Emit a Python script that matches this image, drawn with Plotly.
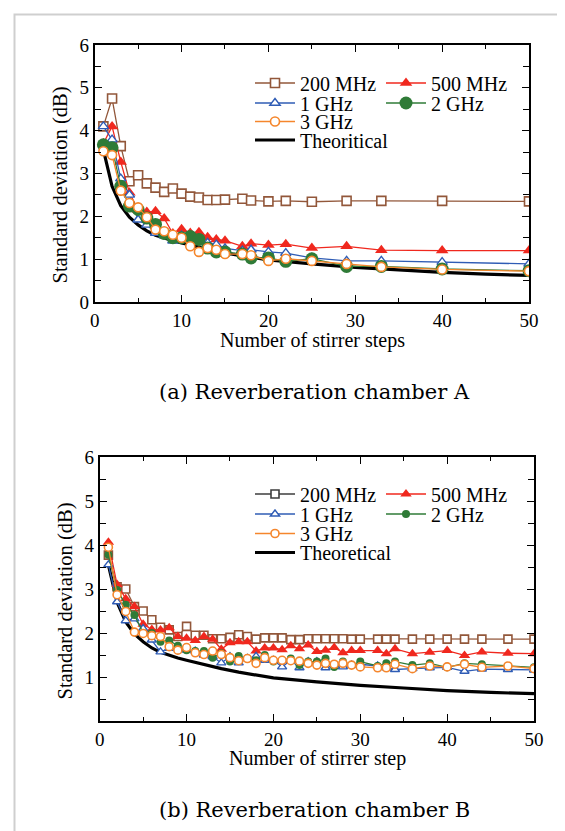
import plotly.graph_objects as go

FONT = "Liberation Serif"
CAP_FONT = "DejaVu Serif"
W, H = 565, 831

# ---------------- Data: reverberation chamber A ----------------
steps_a = [1, 2, 3, 4, 5, 6, 7, 8, 9, 10, 11, 12, 13, 14, 15, 17, 18, 20, 22, 25, 29, 33, 40, 50]
a_200mhz = [4.10, 4.75, 3.64, 2.82, 2.96, 2.77, 2.67, 2.57, 2.65, 2.53, 2.46, 2.44, 2.38, 2.38, 2.39,
            2.41, 2.37, 2.35, 2.36, 2.34, 2.36, 2.36, 2.36, 2.35]
a_500mhz = [3.70, 4.10, 3.27, 2.55, 2.15, 2.10, 2.12, 1.95, 1.60, 1.70, 1.61, 1.63, 1.51, 1.46, 1.43,
            1.30, 1.36, 1.33, 1.35, 1.26, 1.30, 1.21, 1.20, 1.20]
a_1ghz = [4.10, 3.79, 2.88, 2.50, 1.92, 1.80, 1.61, 1.55, 1.43, 1.55, 1.45, 1.42, 1.38, 1.34, 1.25,
          1.20, 1.22, 1.17, 1.14, 1.03, 0.96, 0.96, 0.93, 0.89]
a_2ghz = [3.67, 3.60, 2.70, 2.24, 2.16, 1.96, 1.81, 1.60, 1.50, 1.50, 1.53, 1.46, 1.26, 1.17, 1.17,
          1.12, 1.03, 1.03, 0.95, 1.01, 0.83, 0.83, 0.77, 0.73]
a_3ghz = [3.52, 3.43, 2.60, 2.31, 2.21, 1.98, 1.69, 1.65, 1.57, 1.50, 1.30, 1.17, 1.26, 1.22, 1.12,
          1.12, 1.09, 0.96, 1.01, 0.96, 0.89, 0.82, 0.76, 0.72]

# ---------------- Data: reverberation chamber B ----------------
steps_b = list(range(1, 31)) + [32, 33, 34, 36, 38, 40, 42, 44, 47, 50]
b_200mhz = [3.77, 3.05, 3.00, 2.60, 2.50, 2.30, 2.13, 2.07, 1.92, 2.15,
            1.95, 1.95, 1.87, 1.87, 1.90, 1.96, 1.92, 1.86, 1.89, 1.89,
            1.89, 1.85, 1.85, 1.87, 1.87, 1.87, 1.87, 1.87, 1.86, 1.86,
            1.86, 1.86, 1.86, 1.86, 1.86, 1.86, 1.86, 1.86, 1.86, 1.86]
b_500mhz = [4.06, 3.10, 2.78, 2.60, 2.20, 2.08, 2.07, 2.12, 1.92, 1.88,
            1.83, 1.92, 1.86, 1.63, 1.78, 1.80, 1.80, 1.59, 1.66, 1.66,
            1.62, 1.71, 1.64, 1.73, 1.58, 1.61, 1.67, 1.55, 1.60, 1.60,
            1.60, 1.53, 1.64, 1.53, 1.56, 1.60, 1.49, 1.57, 1.54, 1.53]
b_1ghz = [3.55, 2.71, 2.28, 2.32, 2.10, 1.84, 1.57, 1.65, 1.65, 1.61,
          1.59, 1.50, 1.46, 1.32, 1.46, 1.32, 1.42, 1.47, 1.38, 1.38,
          1.23, 1.38, 1.21, 1.35, 1.35, 1.21, 1.27, 1.23, 1.27, 1.29,
          1.25, 1.21, 1.17, 1.19, 1.21, 1.22, 1.13, 1.18, 1.17, 1.16]
b_2ghz = [3.78, 2.98, 2.64, 2.41, 2.00, 2.00, 1.80, 1.83, 1.71, 1.61,
          1.59, 1.59, 1.44, 1.54, 1.35, 1.48, 1.42, 1.38, 1.50, 1.35,
          1.38, 1.42, 1.27, 1.35, 1.35, 1.42, 1.23, 1.35, 1.27, 1.35,
          1.25, 1.31, 1.35, 1.27, 1.31, 1.22, 1.31, 1.29, 1.25, 1.22]
b_3ghz = [3.95, 2.87, 2.49, 2.02, 1.99, 1.94, 1.92, 1.69, 1.61, 1.67,
          1.55, 1.51, 1.59, 1.51, 1.44, 1.37, 1.42, 1.31, 1.44, 1.38,
          1.38, 1.37, 1.36, 1.31, 1.27, 1.31, 1.29, 1.31, 1.27, 1.23,
          1.21, 1.21, 1.29, 1.19, 1.25, 1.23, 1.29, 1.22, 1.25, 1.19]

# Theoretical curve (same for both chambers)
theo_steps = [1, 2, 3, 4, 5, 6, 7, 8, 9, 10, 12, 14, 16, 18, 20, 25, 30, 35, 40, 45, 50]
theo_std = [3.55, 2.70, 2.25, 1.98, 1.80, 1.66, 1.56, 1.49, 1.43, 1.38, 1.28, 1.19, 1.11, 1.04,
            0.98, 0.89, 0.81, 0.75, 0.69, 0.65, 0.62]

x_ticks = [0, 10, 20, 30, 40, 50]
x_minor = [5, 15, 25, 35, 45]
y_ticks_a = [0, 1, 2, 3, 4, 5, 6]
y_ticks_b = [1, 2, 3, 4, 5, 6]
y_minor = [0.5, 1.5, 2.5, 3.5, 4.5, 5.5]

BROWN = "#92573a"
DARK = "#3c3c3c"
RED = "#f0281e"
BLUE = "#2f5cb5"
GREEN = "#2f7b37"
ORANGE = "#f5862c"

fig = go.Figure()


def add_panel(xa, ya, steps, s200, s500, s1g, s2g, s3g, theo_name, legs, small):
    msz = 8 if small else 9
    gsz = 8 if small else 13
    common = dict(xaxis=xa, yaxis=ya, mode="lines+markers")
    fig.add_trace(go.Scatter(x=theo_steps, y=theo_std, name=theo_name, mode="lines",
                             line=dict(color="black", width=3.2), xaxis=xa, yaxis=ya,
                             legend=legs[3]))
    fig.add_trace(go.Scatter(x=steps, y=s200, name="200 MHz", legend=legs[0],
                             showlegend=not small,
                             line=dict(color=BROWN, width=1.3),
                             marker=dict(symbol="square", size=msz, color="white",
                                         line=dict(color=BROWN, width=1.6)), **common))
    if small:
        # legend entry of chamber B drawn in dark grey, as in the original
        fig.add_trace(go.Scatter(x=[None], y=[None], name="200 MHz", legend=legs[0],
                                 line=dict(color=DARK, width=1.3),
                                 marker=dict(symbol="square", size=msz, color="white",
                                             line=dict(color=DARK, width=1.6)), **common))
    fig.add_trace(go.Scatter(x=steps, y=s500, name="500 MHz", legend=legs[0],
                             line=dict(color=RED, width=1.3),
                             marker=dict(symbol="triangle-up", size=msz + 2, color=RED,
                                         line=dict(width=0)), **common))
    fig.add_trace(go.Scatter(x=steps, y=s1g, name="1 GHz", legend=legs[1],
                             line=dict(color=BLUE, width=1.3),
                             marker=dict(symbol="triangle-up", size=msz, color="white",
                                         line=dict(color=BLUE, width=1.4)), **common))
    fig.add_trace(go.Scatter(x=steps, y=s2g, name="2 GHz", legend=legs[1],
                             line=dict(color=GREEN, width=1.3),
                             marker=dict(symbol="circle", size=gsz, color=GREEN,
                                         line=dict(width=0)), **common))
    fig.add_trace(go.Scatter(x=steps, y=s3g, name="3 GHz", legend=legs[2],
                             line=dict(color=ORANGE, width=1.3),
                             marker=dict(symbol="circle", size=msz, color="white",
                                         line=dict(color=ORANGE, width=1.6)), **common))


add_panel("x", "y", steps_a, a_200mhz, a_500mhz, a_1ghz, a_2ghz, a_3ghz, "Theoritical",
          ["legend", "legend2", "legend3", "legend4"], False)
add_panel("x2", "y2", steps_b, b_200mhz, b_500mhz, b_1ghz, b_2ghz, b_3ghz, "Theoretical",
          ["legend5", "legend6", "legend7", "legend8"], True)

tickfont = dict(family=FONT, size=19, color="black")


def xaxis(domain, anchor):
    return dict(domain=domain, anchor=anchor, range=[0, 50], tickmode="array", tickvals=x_ticks,
                ticks="inside", ticklen=7, tickwidth=1.3, tickcolor="black",
                minor=dict(tickmode="array", tickvals=x_minor, ticks="inside",
                           ticklen=4, tickwidth=1.2, tickcolor="black"),
                showline=True, linecolor="black", linewidth=1.6, mirror="ticks",
                showgrid=False, zeroline=False, tickfont=tickfont)


def yaxis(domain, anchor, tv):
    return dict(domain=domain, anchor=anchor, range=[0, 6], tickmode="array", tickvals=tv,
                ticks="inside", ticklen=7, tickwidth=1.3, tickcolor="black",
                minor=dict(tickmode="array", tickvals=y_minor, ticks="inside",
                           ticklen=6, tickwidth=1.2, tickcolor="black"),
                showline=True, linecolor="black", linewidth=1.6, mirror="ticks",
                showgrid=False, zeroline=False, tickfont=tickfont)


def px_x(p):
    return p / W


def px_y(p):
    return 1 - p / H


layout = dict(
    width=W, height=H, margin=dict(l=0, r=0, t=0, b=0),
    paper_bgcolor="white", plot_bgcolor="white", template="none",
    font=dict(family=FONT, color="black"),
    xaxis=xaxis([px_x(86.7), px_x(521)], "y"),
    yaxis=yaxis([px_y(294), px_y(37)], "x", y_ticks_a),
    xaxis2=xaxis([px_x(91.7), px_x(526)], "y2"),
    yaxis2=yaxis([px_y(713), px_y(449)], "x2", y_ticks_b),
)

legfont = dict(family=FONT, size=20, color="black")
leg_rows_a = [75, 95, 113.5, 132]
leg_rows_b = [486, 506, 525.5, 544.5]
names = ["legend", "legend2", "legend3", "legend4", "legend5", "legend6", "legend7", "legend8"]
two_col = [True, True, False, False] * 2
ys = leg_rows_a + leg_rows_b
for nm, ly, tc in zip(names, ys, two_col):
    layout[nm] = dict(x=px_x(242), y=px_y(ly), xanchor="left", yanchor="middle",
                      orientation="h", bgcolor="rgba(0,0,0,0)", font=legfont,
                      entrywidth=76 if tc else 0, itemwidth=40, borderwidth=0)


def ann(text, x, y, size, family=FONT, angle=0):
    return dict(text=text, x=px_x(x), y=px_y(y), xref="paper", yref="paper", showarrow=False,
                xanchor="center", yanchor="middle", textangle=angle,
                font=dict(family=family, size=size, color="black"))


layout["annotations"] = [
    ann("Standard deviation (dB)", 51.5, 177, 20.5, angle=-90),
    ann("Number of stirrer steps", 304.5, 333, 20),
    ann("(a) Reverberation chamber A", 306, 384, 21, family=CAP_FONT),
    ann("Standard deviation (dB)", 56.5, 593, 20.5, angle=-90),
    ann("Number of stirrer step", 309, 750, 20),
    ann("(b) Reverberation chamber B", 306, 802, 21, family=CAP_FONT),
]
layout["shapes"] = [
    dict(type="rect", xref="paper", yref="paper", x0=px_x(6.5), x1=px_x(558.5),
         y0=-0.02, y1=px_y(6.5), line=dict(color="#cfcfcf", width=2), fillcolor="rgba(0,0,0,0)",
         layer="below"),
]

fig.update_layout(**layout)
fig.write_html("out.html")
